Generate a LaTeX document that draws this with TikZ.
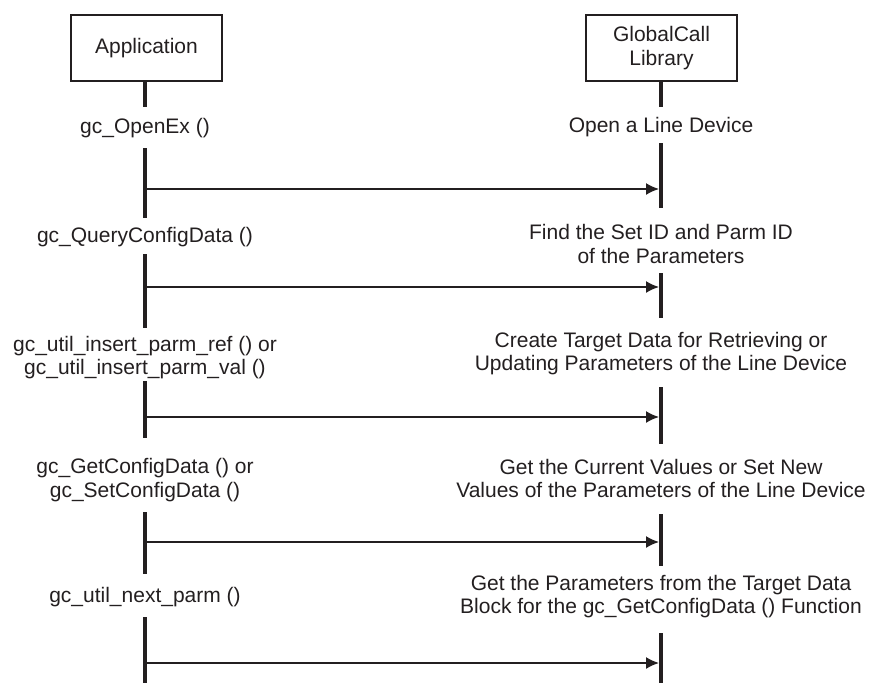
\documentclass[tikz,border=0pt]{standalone}
\usepackage{fontspec}
\setmainfont{Liberation Sans}
\usepackage{tikz}
\usetikzlibrary{arrows.meta}
\usetikzlibrary{positioning}
\definecolor{ink}{HTML}{231F20}
\tikzstyle{party} = [rectangle, draw=ink, line width=2.2pt, minimum width=151pt, minimum height=66pt, text centered, align=center, inner sep=0pt, text=ink, font=\fontsize{21}{23.5}\selectfont]
\tikzstyle{call} = [align=center, inner sep=0pt, text=ink, font=\fontsize{21}{23.5}\selectfont]
\tikzstyle{life} = [draw=ink, line width=4pt]
\tikzstyle{msg} = [draw=ink, line width=1.6pt, -{Latex[length=13pt,width=12pt]}, shorten >=2pt]

\begin{document}
\begin{tikzpicture}[x=1pt, y=-1pt]
\useasboundingbox (0,0) rectangle (871,683);

\node (app) [party] at (146.5,48) {Application};
\node (gcl) [party] at (661.5,48) {GlobalCall\\Library};

\node (openex) [call] at (145,128) {gc\_OpenEx ()};
\node (query) [call] at (145,237) {gc\_QueryConfigData ()};
\node (insert) [call] at (145,357.5) {gc\_util\_insert\_parm\_ref () or\\gc\_util\_insert\_parm\_val ()};
\node (getset) [call] at (145,480) {gc\_GetConfigData () or\\gc\_SetConfigData ()};
\node (next) [call] at (145,597) {gc\_util\_next\_parm ()};

\node (opendev) [call] at (661,127) {Open a Line Device};
\node (findid) [call] at (661,244) {Find the Set ID and Parm ID\\of the Parameters};
\node (target) [call] at (661,353.5) {Create Target Data for Retrieving or\\Updating Parameters of the Line Device};
\node (values) [call] at (661,478.5) {Get the Current Values or Set New\\Values of the Parameters of the Line Device};
\node (params) [call] at (661,596.5) {Get the Parameters from the Target Data\\Block for the gc\_GetConfigData () Function};

\coordinate (app0) at (145,107);
\coordinate (gcl0) at (661,107);
\draw[life] (app.south -| app0) -- (app0);
\draw[life] (gcl.south -| gcl0) -- (gcl0);

\foreach \n/\top/\bot in {1/148/218, 2/254/328, 3/381/438, 4/512/574, 5/617/683}
{
  \coordinate (app\n t) at (145,\top);
  \coordinate (app\n b) at (145,\bot);
  \draw[life] (app\n t) -- (app\n b);
}
\foreach \n/\top/\bot in {1/143/208, 2/273/318, 3/387/444, 4/514/566, 5/633/683}
{
  \coordinate (gcl\n t) at (661,\top);
  \coordinate (gcl\n b) at (661,\bot);
  \draw[life] (gcl\n t) -- (gcl\n b);
}

\foreach \n/\y in {1/189, 2/287, 3/417, 4/542, 5/663}
{
  \coordinate (from\n) at (145,\y);
  \coordinate (to\n) at (661,\y);
  \draw[msg] (from\n) -- (to\n);
}
\end{tikzpicture}
\end{document}
